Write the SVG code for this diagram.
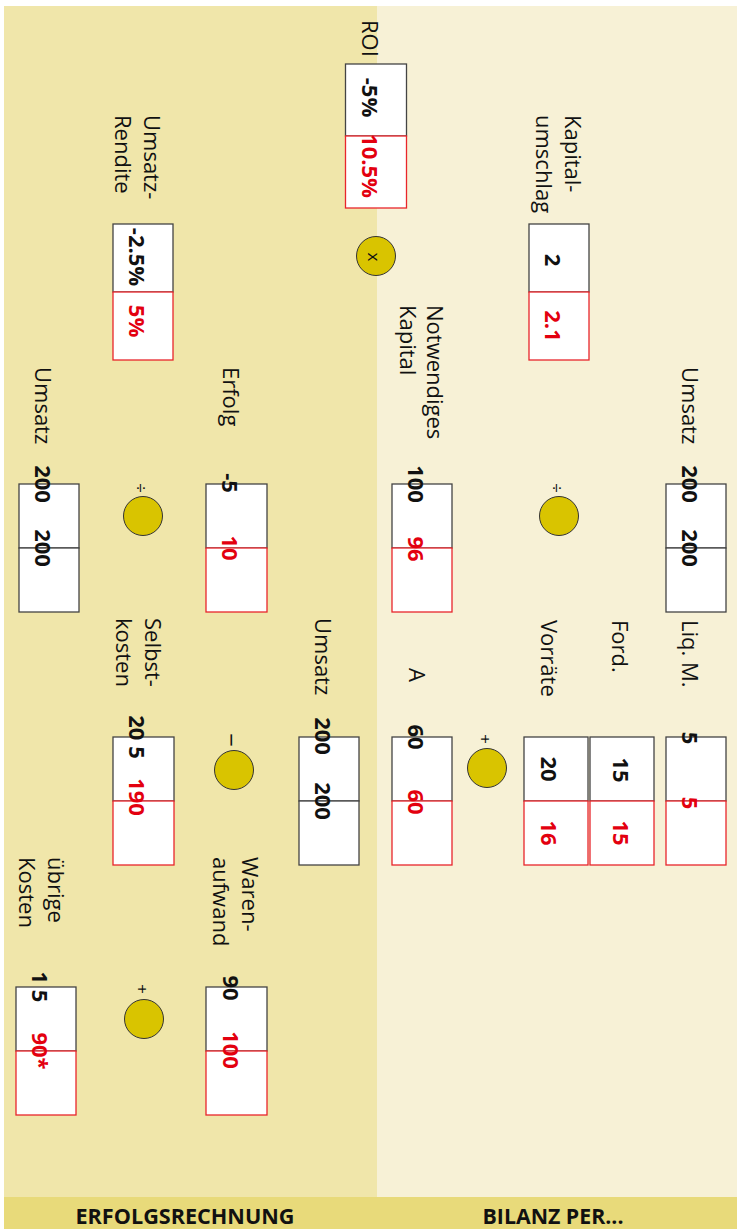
<svg xmlns="http://www.w3.org/2000/svg" width="737" height="1229" viewBox="0 0 737 1229">
<style>
.lbl{font-family:"Open Sans","Noto Sans","Liberation Sans",sans-serif;font-size:22px;fill:#111}
.v{font-family:"Open Sans","Noto Sans","Liberation Sans",sans-serif;font-size:22px;font-weight:bold;fill:#111;text-anchor:middle}
.r{fill:#E3000F}
.op{font-family:"Open Sans","Noto Sans","Liberation Sans",sans-serif;font-size:17px;fill:#111;text-anchor:middle}
.bk{fill:#fff;stroke:#444;stroke-width:1.3}
.br{fill:#fff;stroke:#E8262B;stroke-width:1.3}
.c{fill:#D9C400;stroke:#333;stroke-width:1}
.ft{font-family:"Open Sans","Noto Sans","Liberation Sans",sans-serif;font-size:21px;font-weight:bold;fill:#111;text-anchor:middle}
</style>
<rect x="0" y="0" width="737" height="1229" fill="#fff"/>
<g id="background">
<rect x="4" y="6" width="373" height="1191" fill="#F0E6AA"/>
<rect x="377" y="6" width="360" height="1191" fill="#F7F1D6"/>
<rect x="4" y="1197" width="733" height="32" fill="#E8DA7A"/>
<text class="ft" x="185" y="1224" textLength="219" lengthAdjust="spacingAndGlyphs">ERFOLGSRECHNUNG</text>
<text class="ft" x="553" y="1224" textLength="141" lengthAdjust="spacingAndGlyphs">BILANZ PER...</text>
</g>
<g id="connectors"></g>

<g id="roi">
<text class="lbl" transform="translate(362,20) rotate(90)">ROI</text>
<rect class="bk" x="345.5" y="64" width="61" height="72"/>
<rect class="br" x="345.5" y="136" width="61" height="72"/>
<text class="v" transform="translate(362,97.5) rotate(90)">-5%</text>
<text class="v r" transform="translate(362,166) rotate(90)">10.5%</text>
</g>
<g id="op-mul">
<circle class="c" cx="376" cy="256" r="19.5"/>
<text class="op" transform="translate(368,257) rotate(90)">x</text>
</g>
<g id="umsatzrendite">
<text class="lbl" transform="translate(144,115) rotate(90)">Umsatz-<tspan x="0" dy="29">Rendite</tspan></text>
<rect class="bk" x="113" y="224" width="60" height="68"/>
<rect class="br" x="113" y="292" width="60" height="68"/>
<text class="v" transform="translate(128.5,257) rotate(90)">-2.5%</text>
<text class="v r" transform="translate(128.5,321) rotate(90)">5%</text>
</g>
<g id="kapitalumschlag">
<text class="lbl" transform="translate(565,115) rotate(90)">Kapital-<tspan x="0" dy="29">umschlag</tspan></text>
<rect class="bk" x="529" y="224" width="60" height="68"/>
<rect class="br" x="529" y="292" width="60" height="68"/>
<text class="v" transform="translate(545,260) rotate(90)">2</text>
<text class="v r" transform="translate(545,326) rotate(90)">2.1</text>
</g>

<g id="umsatz-l">
<text class="lbl" transform="translate(35,367) rotate(90)">Umsatz</text>
<rect class="bk" x="19" y="484" width="60" height="64"/>
<rect class="bk" x="19" y="548" width="60" height="64"/>
<text class="v" transform="translate(35,484) rotate(90)">200</text>
<text class="v" transform="translate(35,548) rotate(90)">200</text>
</g>
<g id="op-div-l">
<circle class="c" cx="143" cy="516" r="19.5"/>
<text class="op" transform="translate(135,488) rotate(90)">÷</text>
</g>
<g id="erfolg">
<text class="lbl" transform="translate(223,367) rotate(90)">Erfolg</text>
<rect class="bk" x="206" y="484" width="61" height="64"/>
<rect class="br" x="206" y="548" width="61" height="64"/>
<text class="v" transform="translate(222,483) rotate(90)">-5</text>
<text class="v r" transform="translate(222,548) rotate(90)">10</text>
</g>
<g id="notwendiges-kapital">
<text class="lbl" transform="translate(427,305) rotate(90)">Notwendiges<tspan x="0" dy="27">Kapital</tspan></text>
<rect class="bk" x="392" y="484" width="60" height="64"/>
<rect class="br" x="392" y="548" width="60" height="64"/>
<text class="v" transform="translate(408,484) rotate(90)">100</text>
<text class="v r" transform="translate(408,549) rotate(90)">96</text>
</g>
<g id="op-div-r">
<circle class="c" cx="559" cy="516" r="19.5"/>
<text class="op" transform="translate(551,488) rotate(90)">÷</text>
</g>
<g id="umsatz-r">
<text class="lbl" transform="translate(682,367) rotate(90)">Umsatz</text>
<rect class="bk" x="666" y="484" width="60" height="64"/>
<rect class="bk" x="666" y="548" width="60" height="64"/>
<text class="v" transform="translate(682,484) rotate(90)">200</text>
<text class="v" transform="translate(682,548) rotate(90)">200</text>
</g>

<g id="selbstkosten">
<text class="lbl" transform="translate(145,618) rotate(90)">Selbst-<tspan x="0" dy="29">kosten</tspan></text>
<rect class="bk" x="113" y="737" width="61" height="64"/>
<rect class="br" x="113" y="801" width="61" height="64"/>
<text class="v" transform="translate(129,737) rotate(90)">20 5</text>
<text class="v r" transform="translate(129,797) rotate(90)">190</text>
</g>
<g id="op-minus">
<circle class="c" cx="234" cy="770" r="19.5"/>
<text class="op" style="font-size:24px" transform="translate(223,740) rotate(90)">−</text>
</g>
<g id="umsatz-m">
<text class="lbl" transform="translate(315,618) rotate(90)">Umsatz</text>
<rect class="bk" x="299" y="737" width="60" height="64"/>
<rect class="bk" x="299" y="801" width="60" height="64"/>
<text class="v" transform="translate(315,736) rotate(90)">200</text>
<text class="v" transform="translate(315,801) rotate(90)">200</text>
</g>
<g id="anlage">
<text class="lbl" transform="translate(409,668) rotate(90)">A</text>
<rect class="bk" x="392" y="737" width="60" height="64"/>
<rect class="br" x="392" y="801" width="60" height="64"/>
<text class="v" transform="translate(408,737) rotate(90)">60</text>
<text class="v r" transform="translate(408,802) rotate(90)">60</text>
</g>
<g id="op-plus-r">
<circle class="c" cx="487" cy="768" r="19.5"/>
<text class="op" transform="translate(479,739) rotate(90)">+</text>
</g>
<g id="vorraete">
<text class="lbl" transform="translate(541,620) rotate(90)">Vorräte</text>
<rect class="bk" x="524" y="737" width="64" height="64"/>
<rect class="br" x="524" y="801" width="64" height="64"/>
<text class="v" transform="translate(541,769) rotate(90)">20</text>
<text class="v r" transform="translate(541,833) rotate(90)">16</text>
</g>
<g id="ford">
<text class="lbl" transform="translate(612,620) rotate(90)">Ford.</text>
<rect class="bk" x="590" y="737" width="64" height="64"/>
<rect class="br" x="590" y="801" width="64" height="64"/>
<text class="v" transform="translate(613,770) rotate(90)">15</text>
<text class="v r" transform="translate(613,833) rotate(90)">15</text>
</g>
<g id="liq">
<text class="lbl" transform="translate(682,620) rotate(90)">Liq. M.</text>
<rect class="bk" x="666" y="737" width="60" height="64"/>
<rect class="br" x="666" y="801" width="60" height="64"/>
<text class="v" transform="translate(682,738) rotate(90)">5</text>
<text class="v r" transform="translate(682,803) rotate(90)">5</text>
</g>

<g id="uebrige-kosten">
<text class="lbl" transform="translate(48,857) rotate(90)">übrige<tspan x="0" dy="29">Kosten</tspan></text>
<rect class="bk" x="16" y="987" width="60" height="64"/>
<rect class="br" x="16" y="1051" width="60" height="64"/>
<text class="v" transform="translate(32,987) rotate(90)">1 5</text>
<text class="v r" transform="translate(32,1051) rotate(90)">90*</text>
</g>
<g id="op-plus-l">
<circle class="c" cx="144" cy="1019" r="19.5"/>
<text class="op" transform="translate(136,989) rotate(90)">+</text>
</g>
<g id="warenaufwand">
<text class="lbl" transform="translate(242,857) rotate(90)">Waren-<tspan x="0" dy="29">aufwand</tspan></text>
<rect class="bk" x="206" y="987" width="61" height="64"/>
<rect class="br" x="206" y="1051" width="61" height="64"/>
<text class="v" transform="translate(223,988) rotate(90)">90</text>
<text class="v r" transform="translate(223,1050) rotate(90)">100</text>
</g>
</svg>
